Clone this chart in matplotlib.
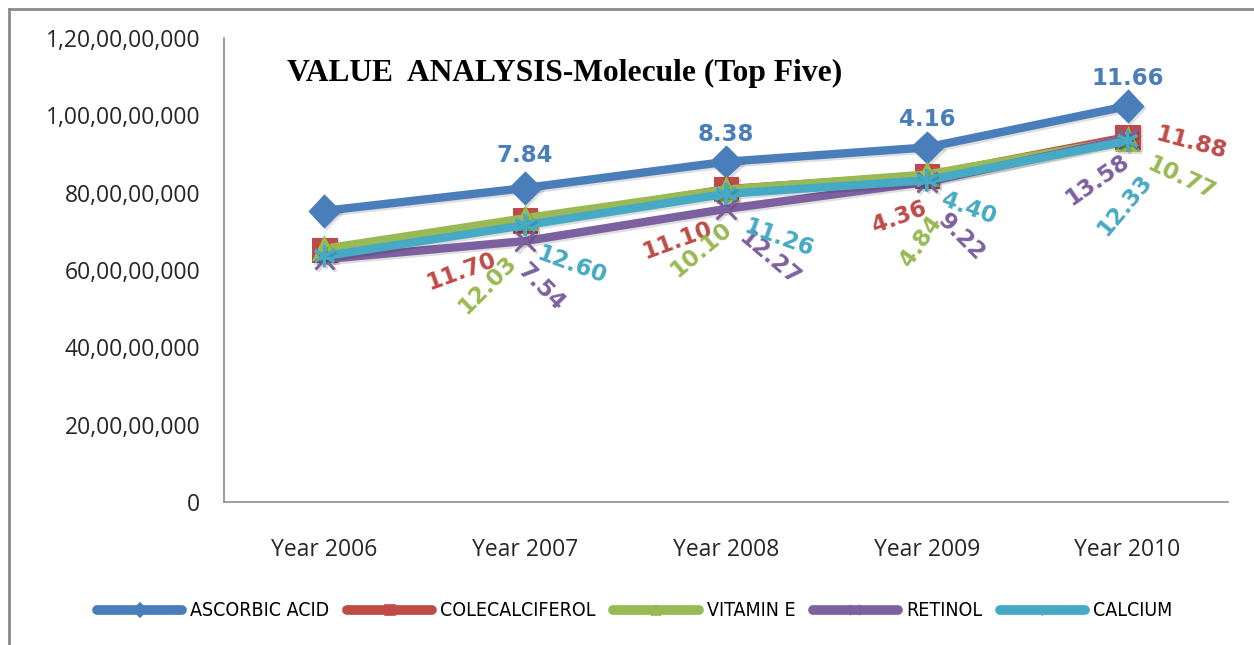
import matplotlib
matplotlib.use("Agg")
import matplotlib.pyplot as plt
import matplotlib.patheffects as pe
from matplotlib.lines import Line2D
from matplotlib.ticker import FuncFormatter

# yearly value per molecule (INR) and year-on-year growth (%)
years = ["Year 2006", "Year 2007", "Year 2008", "Year 2009", "Year 2010"]
series_names = ["ASCORBIC ACID", "COLECALCIFEROL", "VITAMIN E", "RETINOL", "CALCIUM"]

ascorbic_acid = [753e6, 812e6, 880e6, 917e6, 1024e6]
colecalciferol = [652e6, 728e6, 809e6, 844e6, 944e6]
vitamin_e = [655e6, 734e6, 808e6, 847e6, 938e6]
retinol = [628e6, 675e6, 758e6, 828e6, 940e6]
calcium = [636e6, 716e6, 797e6, 832e6, 934e6]

growth_ascorbic = [None, "7.84", "8.38", "4.16", "11.66"]
growth_colecalciferol = [None, "11.70", "11.10", "4.36", "11.88"]
growth_vitamin_e = [None, "12.03", "10.10", "4.84", "10.77"]
growth_retinol = [None, "7.54", "12.27", "9.22", "13.58"]
growth_calcium = [None, "12.60", "11.26", "4.40", "12.33"]

values = [ascorbic_acid, colecalciferol, vitamin_e, retinol, calcium]
growth = [growth_ascorbic, growth_colecalciferol, growth_vitamin_e,
          growth_retinol, growth_calcium]

colors = ["#4A7EBB", "#BE4B48", "#98B954", "#7D60A0", "#46AAC5"]
markers = ["D", "s", "^", "x", (6, 2, 0)]
msizes = [15, 16, 15, 14, 16]

# label placement: (dx, dy) in pixels from the point, rotation in degrees
label_pos = [
    [None, (0, 33, 0), (0, 27, 0), (0, 28, 0), (0, 28, 0)],
    [None, (-64, -51, 20), (-49, -51, 20), (-28, -42, 20), (63, -6, -15)],
    [None, (-38, -67, 45), (-25, -60, 40), (-6, -67, 55), (53, -39, -25)],
    [None, (16, -46, -45), (43, -49, -40), (35, -55, -45), (-30, -41, 35)],
    [None, (46, -40, -20), (53, -44, -20), (42, -28, -20), (-3, -64, 50)],
]

W, H = 1254, 645
fig = plt.figure(figsize=(W / 100, H / 100), dpi=100)
ax = fig.add_axes([224 / W, 1 - 502 / H, (1228 - 224) / W, (502 - 38) / H])

x = range(len(years))
shadow = [pe.SimpleLineShadow(offset=(1.5, -1.5), alpha=0.13, shadow_color="black"),
          pe.Normal()]
for i, vals in enumerate(values):
    ax.plot(x, vals, color=colors[i], lw=6, marker=markers[i], ms=msizes[i],
            mec=colors[i], mfc=colors[i], mew=2.2, solid_joinstyle="round",
            path_effects=shadow, zorder=3 + i)
    for j, lab in enumerate(growth[i]):
        if lab is None:
            continue
        dx, dy, rot = label_pos[i][j]
        ax.annotate(lab, (j, vals[j]), xytext=(dx, dy), textcoords="offset pixels",
                    ha="center", va="center", rotation=rot, color=colors[i],
                    fontsize=16.5, fontweight="bold", family="DejaVu Sans",
                    zorder=10)

ax.set_xlim(-0.5, len(years) - 0.5)
ax.set_ylim(0, 1.2e9)
ax.set_yticks([i * 2e8 for i in range(7)])
ax.set_xticks(list(x))
ax.set_xticklabels(years)


def indian_fmt(v, pos):
    n = str(int(round(v)))
    if len(n) <= 3:
        return n
    head, tail = n[:-3], n[-3:]
    groups = []
    while len(head) > 2:
        groups.insert(0, head[-2:])
        head = head[:-2]
    if head:
        groups.insert(0, head)
    return ",".join(groups + [tail])


ax.yaxis.set_major_formatter(FuncFormatter(indian_fmt))
ax.tick_params(axis="y", length=0, pad=17, labelsize=16.5, labelcolor="#262626")
ax.tick_params(axis="x", length=0, pad=26, labelsize=16.5, labelcolor="#262626")
for lbl in ax.get_xticklabels() + ax.get_yticklabels():
    lbl.set_family("Open Sans")
for side in ["top", "right"]:
    ax.spines[side].set_visible(False)
for side in ["left", "bottom"]:
    ax.spines[side].set_color("#8c8c8c")
    ax.spines[side].set_linewidth(1.2)

fig.text(287 / W, 1 - 73 / H, "VALUE  ANALYSIS-Molecule (Top Five)",
         family="Liberation Serif", fontweight="bold", fontsize=22.7, va="center")

handles = [Line2D([], [], color=c, lw=7, marker=m, ms=7, mec=c, mfc=c, mew=1.2,
                  solid_capstyle="round")
           for c, m in zip(colors, markers)]
fig.legend(handles, series_names, loc="center", bbox_to_anchor=(0.506, 1 - 611 / H),
           ncol=5, frameon=False, handlelength=4.4, handletextpad=0.4,
           columnspacing=0.9,
           prop={"family": "DejaVu Sans", "stretch": "condensed", "size": 14})

# outer chart frame
fig.add_artist(Line2D([9 / W, 9 / W], [0, 1 - 9 / H], transform=fig.transFigure,
                      color="#8a8a8a", lw=2))
fig.add_artist(Line2D([9 / W, 1], [1 - 9 / H, 1 - 9 / H], transform=fig.transFigure,
                      color="#8a8a8a", lw=2))

fig.savefig("out.png", dpi=100)
